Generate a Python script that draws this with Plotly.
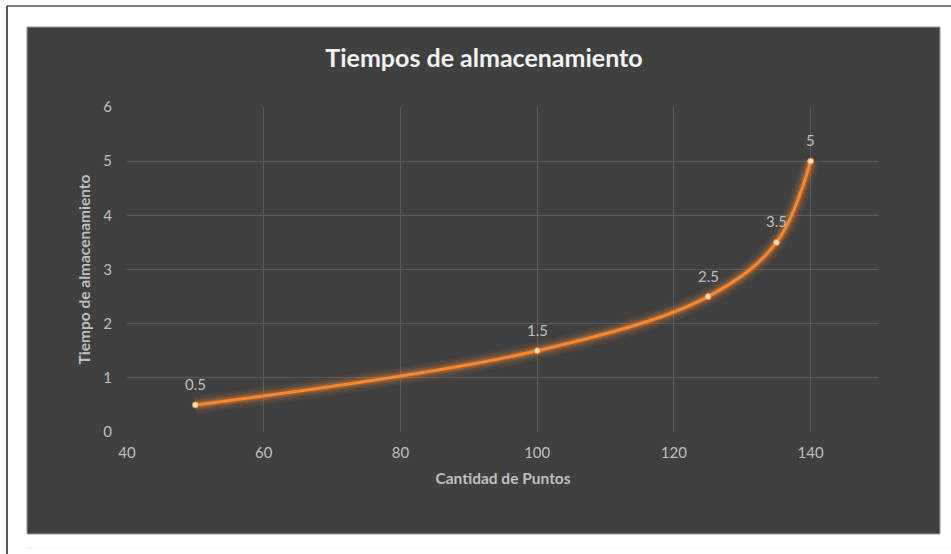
import plotly.graph_objects as go

# Data
puntos = [50, 100, 125, 135, 140]
tiempos = [0.5, 1.5, 2.5, 3.5, 5]
etiquetas = ["0.5", "1.5", "2.5", "3.5", "5"]
x_ticks = [40, 60, 80, 100, 120, 140]
y_ticks = [0, 1, 2, 3, 4, 5, 6]

FONT = "Lato, 'Open Sans', sans-serif"
ORANGE = "#F7862E"
TICK_COLOR = "#BFBFBF"
GRID = "#5A5A5A"
PANEL = "#404040"

fig = go.Figure()

# glow layers
for w, a in [(18, 0.06), (13, 0.1), (9, 0.16), (6, 0.25)]:
    fig.add_trace(go.Scatter(
        x=puntos, y=tiempos, mode="lines",
        line=dict(color=f"rgba(247,134,46,{a})", width=w, shape="spline", smoothing=1),
        hoverinfo="skip", showlegend=False))

fig.add_trace(go.Scatter(
    x=puntos, y=tiempos, mode="lines+markers",
    line=dict(color=ORANGE, width=3, shape="spline", smoothing=1),
    marker=dict(size=6, color="#FDE3CF", line=dict(color=ORANGE, width=1)),
    showlegend=False, cliponaxis=False))

annotations = [
    dict(x=xv, y=yv, text=t, showarrow=False, yshift=21, xref="x", yref="y",
         font=dict(family=FONT, size=15, color=TICK_COLOR))
    for xv, yv, t in zip(puntos, tiempos, etiquetas)
]

L, R, T, B = 127, 72, 107, 122
W, H = 951, 554
pw, ph = W - L - R, H - T - B

def px(x):
    return (x - L) / pw

def py(y):
    return (H - B - y) / ph

shapes = [
    dict(type="rect", xref="paper", yref="paper", x0=px(27), x1=px(940), y0=py(534), y1=py(27),
         fillcolor=PANEL, line=dict(color="#9A9A9A", width=1), layer="below"),
    dict(type="line", xref="paper", yref="paper", x0=px(7), x1=px(951), y0=py(6), y1=py(6),
         line=dict(color="#555555", width=1.5), layer="below"),
    dict(type="line", xref="paper", yref="paper", x0=px(7), x1=px(7), y0=py(6), y1=py(554),
         line=dict(color="#222222", width=1.5), layer="below"),
    dict(type="line", xref="paper", yref="paper", x0=px(27), x1=px(951), y0=py(548), y1=py(548),
         line=dict(color="#EEEEEE", width=1), layer="below"),
]

fig.update_layout(
    width=W, height=H,
    margin=dict(l=L, r=R, t=T, b=B),
    paper_bgcolor="white",
    plot_bgcolor=PANEL,
    shapes=shapes,
    annotations=annotations,
    title=dict(text="<b>Tiempos de almacenamiento</b>", x=484 / W, xanchor="center",
               y=1 - 58 / H, yanchor="middle",
               font=dict(family=FONT, size=25, color="#F2F2F2")),
    xaxis=dict(range=[40, 150], tickvals=x_ticks, showgrid=True, gridcolor=GRID, gridwidth=1,
               zeroline=False, showline=False, ticks="", ticklabelstandoff=10,
               tickfont=dict(family=FONT, size=15, color=TICK_COLOR),
               title=dict(text="<b>Cantidad de Puntos</b>", standoff=13,
                          font=dict(family=FONT, size=15.5, color=TICK_COLOR))),
    yaxis=dict(range=[0, 6], tickvals=y_ticks, showgrid=True, gridcolor=GRID, gridwidth=1,
               zeroline=False, showline=False, ticks="", ticklabelstandoff=14,
               tickfont=dict(family=FONT, size=15, color=TICK_COLOR),
               title=dict(text="<b>Tiempo de almacenamiento</b>", standoff=8,
                          font=dict(family=FONT, size=15.5, color=TICK_COLOR))),
)

fig.write_html("out.html")
